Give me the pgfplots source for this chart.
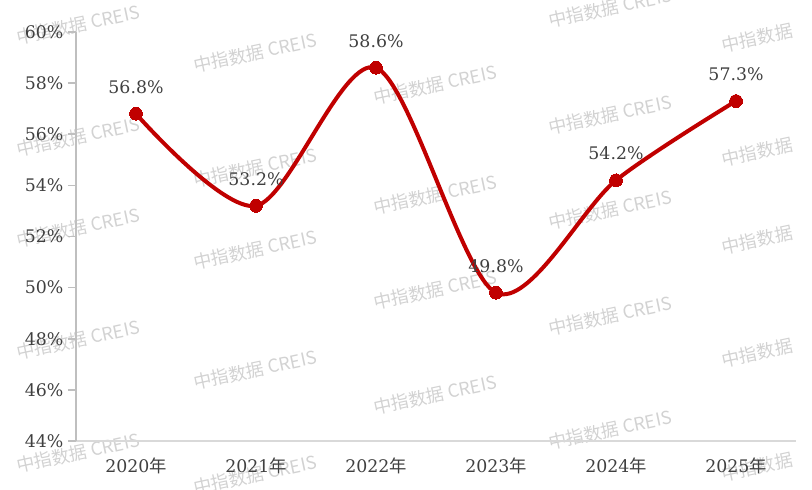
\documentclass[border=0pt]{standalone}
\usepackage{fontspec}
\setmainfont{DejaVu Serif}
\newfontfamily\cjk{Noto Sans CJK SC}
\usepackage{pgfplots}
\pgfplotsset{compat=1.18}
\definecolor{linered}{HTML}{C00000}
\definecolor{textgray}{HTML}{404040}
\definecolor{yaxisgray}{HTML}{BFBFBF}
\definecolor{xaxisgray}{HTML}{D9D9D9}
\definecolor{wmgray}{HTML}{D2D2D2}

\begin{document}
\begin{tikzpicture}
% watermarks, positions in reference pixels
\foreach \x/\y in {78/25,78/137,78/228,78/340,78/453,
                   255/53,255/168,255/250,255/370,255/475,
                   435/85,435/195,435/290,435/395,
                   610/8,610/115,610/210,610/316,610/430}{
  \node[rotate=12, text=wmgray, font=\cjk\fontsize{13.5}{15}\selectfont]
    at ({(\x-76)*0.75pt},{(441-\y)*0.75pt}) {中指数据 CREIS};
}
\foreach \x/\y in {757/38,757/152,757/240,757/353,757/467}{
  \node[rotate=12, text=wmgray, font=\cjk\fontsize{13.5}{15}\selectfont]
    at ({(\x-76)*0.75pt},{(441-\y)*0.75pt}) {中指数据};
}

\begin{axis}[
  at={(0,0)}, anchor=south west,
  scale only axis, width=540pt, height=306.75pt,
  xmin=-0.5, xmax=5.5, ymin=44, ymax=60,
  axis x line=bottom, axis y line=left,
  x axis line style={draw=xaxisgray, line width=1.5pt, -},
  y axis line style={draw=yaxisgray, line width=1.2pt, -},
  xtick={0,...,5},
  xticklabels={2020{\cjk 年},2021{\cjk 年},2022{\cjk 年},2023{\cjk 年},2024{\cjk 年},2025{\cjk 年}},
  ytick={44,46,...,60},
  yticklabels={44\%,46\%,48\%,50\%,52\%,54\%,56\%,58\%,60\%},
  tick align=outside, major tick length=6pt,
  x tick style={draw=none},
  y tick style={draw=yaxisgray, line width=1.2pt},
  ticklabel style={font=\fontsize{13}{15}\selectfont, text=textgray},
  xticklabel style={yshift=-3pt},
  /pgf/number format/assume math mode=true,
  clip=false,
  nodes near coords={\pgfmathprintnumber[fixed,fixed zerofill,precision=1]{\pgfplotspointmeta}\%},
  every node near coord/.append style={font=\fontsize{13}{15}\selectfont, text=textgray, yshift=12pt},
]
\addplot[smooth, linered, line width=3pt, mark=*, mark size=4.8pt,
  mark options={fill=linered, draw=linered, line width=0pt}]
  coordinates {(0,56.8) (1,53.2) (2,58.6) (3,49.8) (4,54.2) (5,57.3)};
\end{axis}
\pgfresetboundingbox
\path[use as bounding box] (-57pt,-36pt) rectangle (552pt,330.75pt);
\end{tikzpicture}
\end{document}
